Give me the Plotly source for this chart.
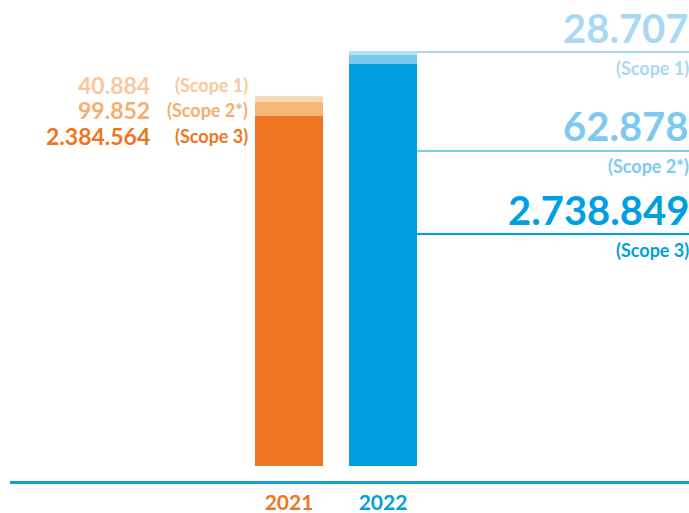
import plotly.graph_objects as go

years = ["2021", "2022"]
scope1 = [40884, 28707]
scope2 = [99852, 62878]
scope3 = [2384564, 2738849]
scope1_txt = ["40.884", "28.707"]
scope2_txt = ["99.852", "62.878"]
scope3_txt = ["2.384.564", "2.738.849"]
scope_names = ["(Scope 1)", "(Scope 2*)", "(Scope 3)"]

orange = ["#EE7623", "#F7B679", "#FCD8B3"]   # scope3, scope2, scope1
blue = ["#009FDF", "#7BC8EE", "#B5E0F6"]
orange_txt = ["#EE7623", "#F5AE70", "#F9C89C"]
blue_txt = ["#009FDF", "#7EC9EE", "#A8D9F4"]

W, H = 689, 513
ML, MR, MT, MB = 10, 0, 0, 513 - 481
PW, PH = W - ML - MR, H - MT - MB
bar_w = 0.72
x_range = [-2.968, 4.255]
ppm = 146.7e-6  # pixels per unit
y_range = [-(481 - 466) / ppm, 466 / ppm]

def px(xp):
    return (xp - ML) / PW

def py(yp):
    return (481 - yp) / PH

fig = go.Figure()
for vals, ci in [(scope3, 0), (scope2, 1), (scope1, 2)]:
    fig.add_trace(go.Bar(
        x=years, y=vals, width=bar_w,
        marker=dict(color=[orange[ci], blue[ci]], line=dict(width=0)),
        showlegend=False, hoverinfo="skip"))

font_num = "Lato"
ann = []
left_rows = [(scope1_txt[0], scope_names[0], orange_txt[2], 85),
             (scope2_txt[0], scope_names[1], orange_txt[1], 110),
             (scope3_txt[0], scope_names[2], orange_txt[0], 136)]
for num, name, col, yy in left_rows:
    ann.append(dict(x=px(152), y=py(yy), xref="paper", yref="paper",
                    text="<b>" + num + "</b>", showarrow=False, xanchor="right",
                    yanchor="middle", font=dict(family=font_num, size=23, color=col)))
    ann.append(dict(x=px(250), y=py(yy), xref="paper", yref="paper",
                    text="<b>" + name + "</b>", showarrow=False, xanchor="right",
                    yanchor="middle", font=dict(family=font_num, size=18, color=col)))

right_rows = [(scope1_txt[1], scope_names[0], blue_txt[2], 28, 52, 68),
              (scope2_txt[1], scope_names[1], blue_txt[1], 126, 151, 166),
              (scope3_txt[1], scope_names[2], blue_txt[0], 210, 234, 250)]
shapes = []
for num, name, col, ynum, yline, yname in right_rows:
    ann.append(dict(x=px(691), y=py(ynum), xref="paper", yref="paper",
                    text="<b>" + num + "</b>", showarrow=False, xanchor="right",
                    yanchor="middle",
                    font=dict(family=font_num, size=40, color=col)))
    ann.append(dict(x=px(691), y=py(yname), xref="paper", yref="paper",
                    text="<b>" + name + "</b>", showarrow=False, xanchor="right",
                    yanchor="middle", font=dict(family=font_num, size=18, color=col)))
    shapes.append(dict(type="line", xref="x", yref="paper",
                       x0=1 + bar_w / 2, x1=x_range[1], y0=py(yline), y1=py(yline),
                       line=dict(color=col, width=2)))

fig.update_layout(
    width=W, height=H,
    margin=dict(l=ML, r=MR, t=MT, b=MB, pad=0, autoexpand=False),
    paper_bgcolor="white", plot_bgcolor="white",
    barmode="stack", bargap=0,
    annotations=ann, shapes=shapes,
    xaxis=dict(range=x_range, showgrid=False, zeroline=False, automargin=False,
               showline=True, linecolor="#0E9FDA", linewidth=3,
               ticks="", tickmode="array", tickvals=years,
               ticktext=["<b><span style='color:#EE7623'>2021</span></b>",
                         "<b><span style='color:#009FDF'>2022</span></b>"],
               tickfont=dict(family=font_num, size=21), ticklabelstandoff=1),
    yaxis=dict(range=y_range, visible=False, showgrid=False, zeroline=False,
               automargin=False),
)

fig.write_html("out.html",
               config={"displayModeBar": False},
               post_script="document.body.style.margin='0';"
                           "document.documentElement.style.overflow='hidden';")
